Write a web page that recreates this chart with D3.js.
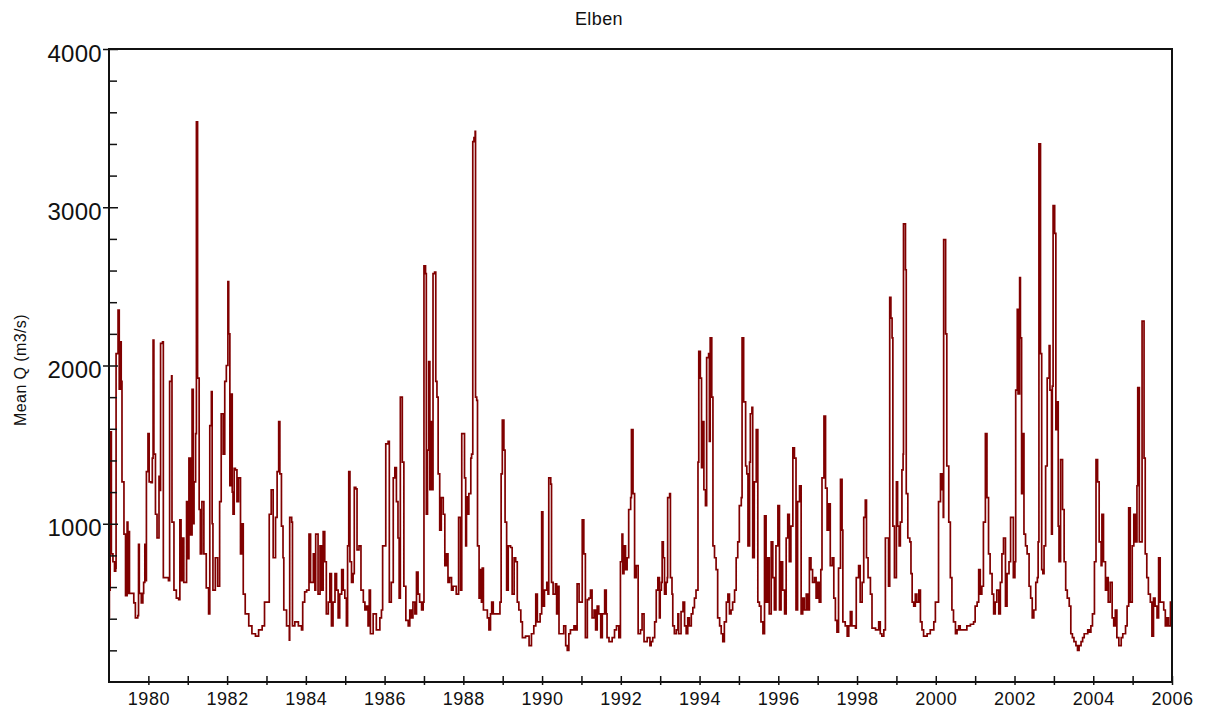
<!DOCTYPE html>
<html>
<head>
<meta charset="utf-8">
<script src="https://cdn.jsdelivr.net/npm/d3@7"></script>
<style>
  body { margin: 0; background: #fff; }
  svg { display: block; font-family: "Liberation Sans", Arial, sans-serif; }
</style>
</head>
<body>
<svg width="1209" height="712"></svg>
<script>
// chart text
var chartTitle = "Elben";
var yTitle = "Mean Q (m3/s)";

// axis ticks
var yearTicks = d3.range(1980, 2007);          // yearly ticks, label on even years
var yMajorTicks = [1000, 2000, 3000, 4000];
var yMinorTicks = d3.range(200, 4000, 200).filter(function(v) { return v % 1000 !== 0; });

// discharge series: [decimal year, Q m3/s]
var flowPoints = [
  [1979.00,410],[1979.01,580],[1979.03,1150],[1979.04,1580],[1979.06,810],[1979.10,760],[1979.14,700],[1979.17,720],
  [1979.18,2075],[1979.23,2350],[1979.26,1850],[1979.29,2150],[1979.31,1900],[1979.33,1265],[1979.38,935],[1979.42,545],
  [1979.46,1010],[1979.48,560],[1979.50,950],[1979.52,560],[1979.59,560],[1979.63,500],[1979.67,405],[1979.73,420],
  [1979.75,870],[1979.77,560],[1979.82,500],[1979.86,560],[1979.88,630],[1979.91,870],[1979.93,640],[1979.95,1330],
  [1979.99,1570],[1980.02,1265],[1980.07,1260],[1980.10,1415],[1980.12,2160],[1980.14,1440],[1980.18,1060],[1980.22,910],
  [1980.27,1300],[1980.29,1210],[1980.31,2140],[1980.36,2150],[1980.38,660],[1980.45,660],[1980.51,640],[1980.54,1900],
  [1980.59,1935],[1980.60,1010],[1980.65,580],[1980.71,530],[1980.77,520],[1980.80,1025],[1980.83,640],[1980.86,910],
  [1980.90,630],[1980.97,1140],[1981.00,780],[1981.03,1415],[1981.07,930],[1981.11,1850],[1981.14,1000],[1981.16,1265],
  [1981.20,1570],[1981.22,3540],[1981.24,3540],[1981.25,1920],[1981.29,1090],[1981.32,810],[1981.36,1140],[1981.41,810],
  [1981.47,595],[1981.53,430],[1981.56,1620],[1981.60,1835],[1981.62,1000],[1981.64,580],[1981.70,785],[1981.76,605],
  [1981.81,1140],[1981.85,1695],[1981.90,1440],[1981.94,1900],[1981.98,2000],[1982.02,2530],[1982.04,2200],[1982.07,1240],
  [1982.10,1820],[1982.13,1200],[1982.15,1060],[1982.18,1350],[1982.21,1340],[1982.25,1140],[1982.29,1290],[1982.34,810],
  [1982.37,1000],[1982.41,555],[1982.46,430],[1982.55,355],[1982.63,305],[1982.72,290],[1982.80,330],[1982.89,355],
  [1982.95,505],[1983.01,505],[1983.07,1060],[1983.12,1215],[1983.17,785],[1983.23,1040],[1983.27,1330],[1983.31,1645],
  [1983.34,1315],[1983.38,985],[1983.42,785],[1983.44,455],[1983.51,355],[1983.58,265],[1983.59,1040],[1983.64,1010],
  [1983.66,355],[1983.72,380],[1983.81,355],[1983.89,330],[1983.92,505],[1983.97,570],[1984.02,580],[1984.08,935],
  [1984.12,630],[1984.19,810],[1984.23,580],[1984.25,935],[1984.30,935],[1984.31,555],[1984.36,860],[1984.40,580],
  [1984.44,950],[1984.48,760],[1984.52,430],[1984.57,505],[1984.61,685],[1984.65,355],[1984.69,505],[1984.74,685],
  [1984.78,580],[1984.82,405],[1984.86,555],[1984.91,710],[1984.95,580],[1984.99,530],[1985.03,355],[1985.06,860],
  [1985.09,1330],[1985.12,760],[1985.16,630],[1985.20,685],[1985.23,1230],[1985.27,1220],[1985.30,835],[1985.35,860],
  [1985.40,580],[1985.46,505],[1985.50,455],[1985.54,480],[1985.58,355],[1985.61,580],[1985.64,305],[1985.71,430],
  [1985.79,330],[1985.88,405],[1985.92,455],[1985.95,860],[1985.99,860],[1986.03,1505],[1986.09,1520],[1986.12,505],
  [1986.17,630],[1986.22,1290],[1986.26,1355],[1986.30,1140],[1986.34,910],[1986.37,530],[1986.40,1800],[1986.45,1390],
  [1986.49,605],[1986.54,390],[1986.60,355],[1986.64,455],[1986.68,405],[1986.72,505],[1986.77,430],[1986.81,695],
  [1986.85,555],[1986.89,505],[1986.94,455],[1986.98,505],[1987.00,2630],[1987.04,2580],[1987.06,1060],[1987.09,1465],
  [1987.12,2025],[1987.15,1215],[1987.19,1645],[1987.21,1215],[1987.23,2580],[1987.27,2590],[1987.30,1900],[1987.33,1800],
  [1987.36,1315],[1987.40,960],[1987.44,1165],[1987.49,1060],[1987.53,735],[1987.57,810],[1987.61,630],[1987.65,660],
  [1987.70,580],[1987.74,605],[1987.82,555],[1987.88,1040],[1987.93,580],[1987.96,1570],[1988.03,1290],[1988.06,860],
  [1988.08,1170],[1988.12,1060],[1988.14,1190],[1988.19,1415],[1988.21,1440],[1988.24,3415],[1988.27,3440],[1988.30,3480],
  [1988.31,1800],[1988.34,1780],[1988.36,860],[1988.40,530],[1988.42,710],[1988.46,505],[1988.48,720],[1988.51,455],
  [1988.57,455],[1988.61,405],[1988.65,330],[1988.69,430],[1988.72,505],[1988.76,430],[1988.86,430],[1988.93,505],
  [1988.96,1315],[1988.99,1655],[1989.03,1465],[1989.06,1010],[1989.10,580],[1989.14,860],[1989.20,850],[1989.24,555],
  [1989.29,785],[1989.33,760],[1989.37,505],[1989.41,455],[1989.46,380],[1989.50,280],[1989.58,290],[1989.67,230],
  [1989.73,305],[1989.79,355],[1989.84,555],[1989.88,380],[1989.95,430],[1989.99,1075],[1990.02,480],[1990.06,580],
  [1990.12,630],[1990.15,555],[1990.17,1290],[1990.22,1250],[1990.24,630],[1990.28,555],[1990.34,620],[1990.37,430],
  [1990.40,605],[1990.43,305],[1990.51,305],[1990.55,355],[1990.60,230],[1990.64,200],[1990.68,305],[1990.72,330],
  [1990.81,355],[1990.85,330],[1990.89,620],[1990.94,505],[1990.98,505],[1991.02,1025],[1991.06,810],[1991.10,280],
  [1991.15,520],[1991.19,530],[1991.23,580],[1991.27,405],[1991.32,455],[1991.36,330],[1991.40,480],[1991.44,430],
  [1991.49,280],[1991.53,430],[1991.59,580],[1991.63,430],[1991.65,280],[1991.70,255],[1991.78,280],[1991.84,330],
  [1991.89,355],[1991.95,280],[1991.99,760],[1992.03,935],[1992.05,685],[1992.08,860],[1992.12,710],[1992.16,785],
  [1992.20,1090],[1992.25,1165],[1992.27,1595],[1992.31,1190],[1992.35,660],[1992.39,735],[1992.44,305],[1992.50,330],
  [1992.54,430],[1992.59,255],[1992.67,280],[1992.74,230],[1992.77,255],[1992.81,280],[1992.86,380],[1992.90,580],
  [1992.94,660],[1992.98,405],[1993.00,580],[1993.03,630],[1993.05,885],[1993.08,785],[1993.11,555],[1993.15,630],
  [1993.18,660],[1993.19,1165],[1993.24,1190],[1993.26,660],[1993.30,555],[1993.32,355],[1993.36,305],[1993.41,330],
  [1993.45,430],[1993.47,305],[1993.53,445],[1993.58,505],[1993.62,355],[1993.66,305],[1993.70,405],[1993.74,355],
  [1993.79,430],[1993.83,470],[1993.87,530],[1993.91,580],[1993.96,1390],[1993.98,2090],[1994.02,1920],[1994.05,1355],
  [1994.08,1645],[1994.11,1215],[1994.15,1115],[1994.18,2050],[1994.23,2075],[1994.25,1520],[1994.27,2175],[1994.31,1800],
  [1994.34,860],[1994.38,785],[1994.42,710],[1994.46,405],[1994.51,355],[1994.55,305],[1994.59,255],[1994.63,380],
  [1994.68,505],[1994.72,555],[1994.76,430],[1994.80,455],[1994.84,505],[1994.89,580],[1994.93,785],[1994.97,885],
  [1995.01,1115],[1995.06,1165],[1995.08,2175],[1995.12,1770],[1995.17,1365],[1995.20,1315],[1995.23,860],[1995.27,1390],
  [1995.29,1695],[1995.33,1735],[1995.35,785],[1995.39,1265],[1995.44,1595],[1995.48,505],[1995.52,480],[1995.56,380],
  [1995.61,305],[1995.65,1050],[1995.69,505],[1995.73,785],[1995.77,430],[1995.82,885],[1995.86,660],[1995.90,455],
  [1995.94,860],[1995.99,1115],[1996.03,455],[1996.07,760],[1996.11,580],[1996.16,430],[1996.20,910],[1996.24,1060],
  [1996.28,760],[1996.32,985],[1996.37,1480],[1996.41,1415],[1996.45,455],[1996.49,1140],[1996.54,1240],[1996.58,430],
  [1996.62,530],[1996.66,455],[1996.71,555],[1996.75,455],[1996.79,785],[1996.83,710],[1996.87,630],[1996.92,660],
  [1996.96,530],[1997.00,630],[1997.04,505],[1997.08,710],[1997.11,1290],[1997.16,1680],[1997.20,1225],[1997.24,960],
  [1997.28,1125],[1997.32,735],[1997.37,785],[1997.41,530],[1997.45,390],[1997.49,315],[1997.53,720],[1997.58,1280],
  [1997.62,960],[1997.64,380],[1997.70,355],[1997.75,290],[1997.79,355],[1997.83,445],[1997.87,355],[1997.96,340],
  [1997.98,660],[1998.04,735],[1998.08,505],[1998.13,630],[1998.17,1040],[1998.21,1150],[1998.24,785],[1998.28,660],
  [1998.34,555],[1998.38,340],[1998.47,330],[1998.55,380],[1998.59,305],[1998.63,290],[1998.68,330],[1998.72,910],
  [1998.76,910],[1998.80,605],[1998.83,2430],[1998.86,2300],[1998.89,2175],[1998.91,985],[1998.95,660],[1999.00,1265],
  [1999.03,985],[1999.07,860],[1999.10,1010],[1999.14,1340],[1999.17,1440],[1999.18,2895],[1999.23,2605],[1999.25,1190],
  [1999.29,910],[1999.34,885],[1999.37,685],[1999.40,505],[1999.44,480],[1999.48,555],[1999.52,505],[1999.57,580],
  [1999.61,380],[1999.65,330],[1999.69,290],[1999.78,305],[1999.86,330],[1999.95,380],[1999.99,505],[2000.05,505],
  [2000.07,1140],[2000.12,1315],[2000.16,1215],[2000.19,1040],[2000.20,2795],[2000.25,2200],[2000.28,1365],[2000.33,1010],
  [2000.37,660],[2000.41,455],[2000.45,380],[2000.50,305],[2000.54,330],[2000.58,355],[2000.62,330],[2000.71,330],
  [2000.79,355],[2000.88,365],[2000.96,380],[2001.00,480],[2001.05,505],[2001.09,710],[2001.13,555],[2001.17,605],
  [2001.21,1010],[2001.26,1570],[2001.30,1165],[2001.34,810],[2001.38,685],[2001.43,555],[2001.47,430],[2001.51,505],
  [2001.55,580],[2001.60,430],[2001.64,630],[2001.68,810],[2001.72,910],[2001.77,480],[2001.81,685],[2001.86,760],
  [2001.90,1040],[2001.94,1040],[2001.97,660],[2002.01,760],[2002.03,1845],[2002.07,2355],[2002.09,1820],[2002.13,2555],
  [2002.15,2175],[2002.18,1190],[2002.21,1570],[2002.24,935],[2002.28,860],[2002.32,810],[2002.37,605],[2002.41,530],
  [2002.45,405],[2002.49,455],[2002.54,630],[2002.58,660],[2002.60,885],[2002.62,3400],[2002.66,2075],[2002.69,710],
  [2002.72,685],[2002.75,860],[2002.79,1365],[2002.83,1920],[2002.88,2125],[2002.90,1845],[2002.94,935],[2002.96,1870],
  [2002.98,3010],[2003.02,2835],[2003.05,1595],[2003.07,1770],[2003.11,985],[2003.13,760],[2003.17,1405],[2003.22,1090],
  [2003.26,760],[2003.30,580],[2003.34,530],[2003.39,480],[2003.43,305],[2003.47,280],[2003.51,255],[2003.56,230],
  [2003.60,200],[2003.64,230],[2003.69,255],[2003.73,280],[2003.77,305],[2003.81,305],[2003.86,330],[2003.90,315],
  [2003.94,355],[2003.98,430],[2004.03,760],[2004.07,1405],[2004.11,1265],[2004.15,885],[2004.20,735],[2004.22,1060],
  [2004.26,760],[2004.31,580],[2004.34,660],[2004.38,505],[2004.43,630],[2004.48,405],[2004.52,355],[2004.56,455],
  [2004.60,280],[2004.65,230],[2004.71,280],[2004.75,305],[2004.82,355],[2004.86,480],[2004.90,1100],[2004.94,505],
  [2004.99,860],[2005.03,1060],[2005.07,885],[2005.11,1240],[2005.13,1860],[2005.17,885],[2005.22,885],[2005.24,2280],
  [2005.29,1415],[2005.32,810],[2005.36,660],[2005.40,555],[2005.45,505],[2005.49,290],[2005.53,530],[2005.57,480],
  [2005.62,405],[2005.66,785],[2005.70,505],[2005.74,505],[2005.79,455],[2005.83,355],[2005.87,405],[2005.91,355],
  [2005.96,505],[2006.00,560]
];

var svg = d3.select("svg"),
    plotLeft = 109, plotRight = 1172, plotTop = 49, plotBottom = 682;

var x = d3.scaleLinear().domain([1979, 2006]).range([plotLeft, plotRight]);
var y = d3.scaleLinear().domain([0, 4000]).range([plotBottom, plotTop]);

// title
svg.append("text")
    .attr("x", 599)
    .attr("y", 25)
    .attr("text-anchor", "middle")
    .style("font-size", "18px")
    .style("letter-spacing", "0.4px")
    .attr("fill", "#111")
    .text(chartTitle);

// y title
svg.append("text")
    .attr("transform", "translate(26,370) rotate(-90)")
    .attr("text-anchor", "middle")
    .style("font-size", "16px")
    .style("letter-spacing", "0.4px")
    .attr("fill", "#111")
    .text(yTitle);

// series (daily values held between readings, so draw as steps)
var line = d3.line()
    .curve(d3.curveStepAfter)
    .x(function(d) { return x(d[0]); })
    .y(function(d) { return y(d[1]); });

svg.append("path")
    .datum(flowPoints)
    .attr("fill", "none")
    .attr("stroke", "#800000")
    .attr("stroke-width", 1.7)
    .attr("stroke-linejoin", "miter")
    .attr("d", line);

// x axis
var xAxis = svg.append("g")
    .attr("transform", "translate(0," + plotBottom + ")")
    .call(d3.axisBottom(x)
        .tickValues(yearTicks)
        .tickSizeOuter(0)
        .tickFormat(function(d) { return d % 2 === 0 ? d : ""; }));
xAxis.select(".domain").remove();
xAxis.selectAll(".tick line").attr("y1", -6).attr("y2", 3).attr("stroke", "#111").attr("stroke-width", 1.5);
xAxis.selectAll(".tick text")
    .attr("y", 10)
    .attr("dy", "0.71em")
    .attr("fill", "#111")
    .style("font-size", "18px")
    .style("font-family", "'Liberation Sans', Arial, sans-serif")
    .style("letter-spacing", "0.5px");

// y axis, major ticks
var yAxis = svg.append("g")
    .attr("transform", "translate(" + plotLeft + ",0)")
    .call(d3.axisLeft(y).tickValues(yMajorTicks).tickSizeOuter(0).tickFormat(d3.format("d")));
yAxis.select(".domain").remove();
yAxis.selectAll(".tick line").attr("x1", -6).attr("x2", 9).attr("stroke", "#111").attr("stroke-width", 1.5);
yAxis.selectAll(".tick text")
    .attr("x", -7)
    .attr("dy", "0.5em")
    .attr("fill", "#111")
    .style("font-size", "24px")
    .style("font-family", "'Liberation Sans', Arial, sans-serif")
    .style("letter-spacing", "0.3px");

// y axis, minor ticks
var yMinor = svg.append("g")
    .attr("transform", "translate(" + plotLeft + ",0)")
    .call(d3.axisLeft(y).tickValues(yMinorTicks).tickSizeOuter(0).tickFormat(""));
yMinor.select(".domain").remove();
yMinor.selectAll(".tick line").attr("x1", 0).attr("x2", 8).attr("stroke", "#111").attr("stroke-width", 1.5);

// frame
svg.append("rect")
    .attr("x", plotLeft)
    .attr("y", plotTop)
    .attr("width", plotRight - plotLeft)
    .attr("height", plotBottom - plotTop)
    .attr("fill", "none")
    .attr("stroke", "#111")
    .attr("stroke-width", 2);
</script>
</body>
</html>
